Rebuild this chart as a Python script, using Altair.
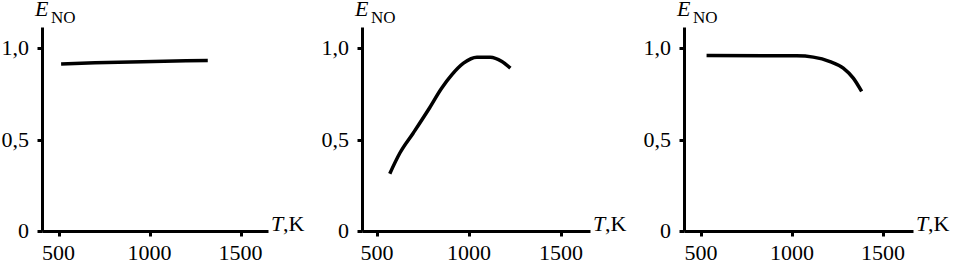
import altair as alt
import pandas as pd

# Panel 1
t1 = [514, 700, 960, 1200, 1320]
e1 = [0.915, 0.921, 0.927, 0.932, 0.933]
# Panel 2
t2 = [569, 624, 697, 779, 851, 906, 970, 1043, 1116, 1179, 1225]
e2 = [0.314, 0.427, 0.537, 0.664, 0.782, 0.855, 0.919, 0.952, 0.952, 0.928, 0.892]
# Panel 3
t3 = [531, 1026, 1117, 1209, 1282, 1337, 1383]
e3 = [0.961, 0.959, 0.952, 0.928, 0.892, 0.837, 0.764]

x_ticks = [500, 1000, 1500]
x_labels = ["500", "1000", "1500"]
y_ticks = [0, 0.5, 1.0]
y_labels = ["0", "0,5", "1,0"]

FONT = "Liberation Serif"
H = 204
Y_MAX = 1.117


def panel(t, e, width, xdom, interp):
    df = pd.DataFrame({"T": t, "E": e})
    xs = alt.Scale(domain=xdom, nice=False, zero=False)
    ys = alt.Scale(domain=[0, Y_MAX], nice=False)
    line = alt.Chart(df).mark_line(
        color="black", strokeWidth=3.5, interpolate=interp, strokeCap="butt"
    ).encode(
        x=alt.X("T:Q", scale=xs,
                axis=alt.Axis(values=x_ticks, title=None, labels=False)),
        y=alt.Y("E:Q", scale=ys,
                axis=alt.Axis(values=y_ticks, title=None, labels=False)),
    )
    xl = alt.Chart(pd.DataFrame({"T": x_ticks, "lab": x_labels})).mark_text(
        font=FONT, fontSize=22, align="center", baseline="alphabetic", color="black"
    ).encode(x=alt.X("T:Q", scale=xs), y=alt.value(H + 29), text="lab:N")
    yl = alt.Chart(pd.DataFrame({"E": y_ticks, "lab": y_labels})).mark_text(
        font=FONT, fontSize=22, align="right", baseline="alphabetic", color="black", dy=7
    ).encode(y=alt.Y("E:Q", scale=ys), x=alt.value(-13), text="lab:N")
    one = alt.Data(values=[{}])
    e_txt = alt.Chart(one).mark_text(
        text="E", font=FONT, fontSize=22, fontStyle="italic", align="left", baseline="alphabetic"
    ).encode(x=alt.value(-7), y=alt.value(-11))
    no_txt = alt.Chart(one).mark_text(
        text="NO", font=FONT, fontSize=17, align="left", baseline="alphabetic"
    ).encode(x=alt.value(9), y=alt.value(-4))
    t_txt = alt.Chart(one).mark_text(
        text="T", font=FONT, fontSize=22, fontStyle="italic", align="left", baseline="alphabetic"
    ).encode(x=alt.value(width + 3), y=alt.value(H))
    k_txt = alt.Chart(one).mark_text(
        text=",K", font=FONT, fontSize=22, align="left", baseline="alphabetic"
    ).encode(x=alt.value(width + 15), y=alt.value(H))
    return alt.layer(line, xl, yl, e_txt, no_txt, t_txt, k_txt).properties(width=width, height=H)


p1 = panel(t1, e1, 226, [409, 1651], "linear")
p2 = panel(t2, e2, 228, [418, 1658], "monotone")
p3 = panel(t3, e3, 229, [407, 1665], "monotone")

chart = alt.hconcat(p1, p2, p3, spacing=94, bounds="flush").configure(
    font=FONT
).configure_view(
    stroke=None
).configure_axis(
    domainColor="black", domainWidth=3, tickColor="black", tickWidth=3, tickSize=5,
    grid=False,
).properties(
    padding={"left": 1, "top": -2, "right": 0, "bottom": 0}
)

chart.save("out.html", embed_options={"renderer": "svg", "actions": False})
